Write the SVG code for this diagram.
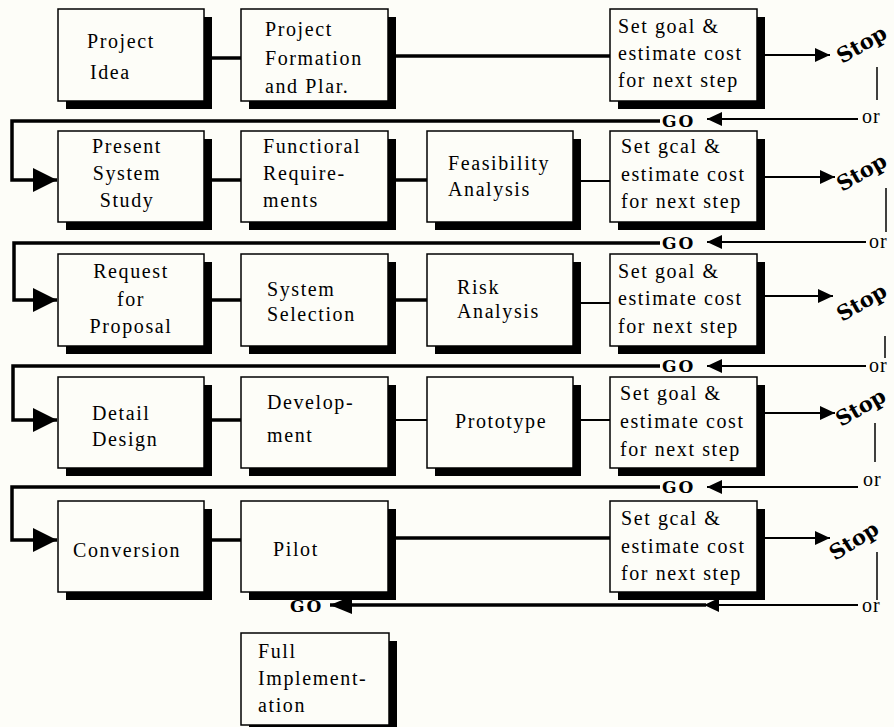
<svg xmlns="http://www.w3.org/2000/svg" width="894" height="727" viewBox="0 0 894 727">
<style>
.bg{fill:#fdfdf8}
.box{fill:#fdfdf8;stroke:#000;stroke-width:1.5}
.sh{fill:#000}
.t{font-family:"Liberation Serif","Times New Roman",serif;font-size:20px;letter-spacing:1.6px;fill:#000}
.c{text-anchor:middle}
.go{font-family:"DejaVu Serif","Liberation Serif",serif;font-weight:bold;font-size:17px;letter-spacing:2px;fill:#000}
.or{font-family:"Liberation Serif","Times New Roman",serif;font-size:20px;letter-spacing:1px;fill:#000}
.stop{font-family:"DejaVu Serif","Liberation Serif",serif;font-weight:bold;font-size:21px;fill:#000}
.thick{stroke:#000;stroke-width:3.5;fill:none}
.thin{stroke:#000;stroke-width:2;fill:none}
.vl{stroke:#000;stroke-width:1.5;fill:none}
</style>
<defs>
<marker id="big" markerUnits="userSpaceOnUse" markerWidth="24" markerHeight="24" refX="24" refY="12" orient="auto"><path d="M0,0 L24,12 L0,24 z" fill="#000"/></marker>
<marker id="sm" markerUnits="userSpaceOnUse" markerWidth="15" markerHeight="14" refX="15" refY="7" orient="auto"><path d="M0,0 L15,7 L0,14 z" fill="#000"/></marker>
<marker id="md" markerUnits="userSpaceOnUse" markerWidth="22" markerHeight="18" refX="22" refY="9" orient="auto"><path d="M0,0 L22,9 L0,18 z" fill="#000"/></marker>
</defs>
<rect class="bg" x="0" y="0" width="894" height="727"/>

<g id="connectors">
<!-- row 1 -->
<line class="thick" x1="212" y1="58" x2="241" y2="58"/>
<line class="thick" x1="395" y1="56" x2="610" y2="56"/>
<line class="thin" x1="764" y1="55" x2="830" y2="55" marker-end="url(#sm)"/>
<line class="vl" x1="877" y1="67" x2="877" y2="100"/>
<!-- row 2 -->
<line class="thick" x1="212" y1="180" x2="241" y2="180"/>
<line class="thick" x1="395" y1="180" x2="427" y2="180"/>
<line class="thin" x1="580" y1="181" x2="610" y2="181"/>
<line class="thin" x1="764" y1="177" x2="835" y2="177" marker-end="url(#sm)"/>
<line class="vl" x1="886" y1="188" x2="886" y2="232"/>
<!-- row 3 -->
<line class="thick" x1="212" y1="300" x2="241" y2="300"/>
<line class="thick" x1="395" y1="300" x2="427" y2="300"/>
<line class="thin" x1="580" y1="303" x2="610" y2="303"/>
<line class="thin" x1="764" y1="296" x2="833" y2="296" marker-end="url(#sm)"/>
<line class="vl" x1="885" y1="336" x2="885" y2="358"/>
<!-- row 4 -->
<line class="thick" x1="212" y1="420" x2="241" y2="420"/>
<line class="thin" x1="395" y1="420" x2="427" y2="420"/>
<line class="thin" x1="580" y1="420" x2="610" y2="420"/>
<line class="thin" x1="764" y1="413" x2="835" y2="413" marker-end="url(#sm)"/>
<line class="vl" x1="875" y1="423" x2="875" y2="462"/>
<!-- row 5 -->
<line class="thick" x1="212" y1="540" x2="241" y2="540"/>
<line class="thick" x1="395" y1="538" x2="610" y2="538"/>
<line class="thin" x1="764" y1="538" x2="830" y2="538" marker-end="url(#sm)"/>
<line class="vl" x1="877" y1="552" x2="877" y2="600"/>
<!-- returns -->
<path class="thin" d="M858,119 H707" marker-end="url(#sm)"/>
<path class="thick" d="M660,121 H12 V180 H57" marker-end="url(#big)"/>
<path class="thin" d="M866,242 H707" marker-end="url(#sm)"/>
<path class="thick" d="M660,243 H14 V300 H57" marker-end="url(#big)"/>
<path class="thin" d="M866,366 H707" marker-end="url(#sm)"/>
<path class="thick" d="M660,366 H13 V420 H57" marker-end="url(#big)"/>
<path class="thin" d="M858,487 H707" marker-end="url(#sm)"/>
<path class="thick" d="M660,487 H12 V540 H57" marker-end="url(#big)"/>
<path class="thin" d="M858,605 H704" marker-end="url(#sm)"/>
<path class="thick" d="M706,605 H330" marker-end="url(#md)"/>
</g>

<g id="labels">
<text class="go" x="662" y="127">GO</text>
<text class="go" x="662" y="249">GO</text>
<text class="go" x="662" y="372">GO</text>
<text class="go" x="662" y="493">GO</text>
<text class="go" x="290" y="612">GO</text>
<text class="or" x="862" y="123">or</text>
<text class="or" x="869" y="248">or</text>
<text class="or" x="869" y="372">or</text>
<text class="or" x="863" y="486">or</text>
<text class="or" x="862" y="612">or</text>
<text class="stop" transform="translate(842,64) rotate(-30)">Stop</text>
<text class="stop" transform="translate(842,192) rotate(-30)">Stop</text>
<text class="stop" transform="translate(842,322) rotate(-30)">Stop</text>
<text class="stop" transform="translate(841,427) rotate(-30)">Stop</text>
<text class="stop" transform="translate(835,561) rotate(-32)">Stop</text>
</g>

<g id="project-idea"><rect class="sh" x="66" y="17" width="146" height="92"/><rect class="box" x="58" y="9" width="146" height="92"/>
<text class="t" x="87" y="48">Project</text><text class="t" x="90" y="79">Idea</text></g>
<g id="project-formation"><rect class="sh" x="249" y="17" width="147" height="92"/><rect class="box" x="241" y="9" width="147" height="92"/>
<text class="t" x="265" y="36">Project</text><text class="t" x="265" y="65">Formation</text><text class="t" x="265" y="93">and Plar.</text></g>
<g id="goal-1"><rect class="sh" x="618" y="17" width="147" height="92"/><rect class="box" x="610" y="9" width="147" height="92"/>
<text class="t" x="618" y="33">Set goal &amp;</text><text class="t" x="618" y="60">estimate cost</text><text class="t" x="618" y="87">for next step</text></g>

<g id="present-system"><rect class="sh" x="66" y="139" width="146" height="91"/><rect class="box" x="58" y="131" width="146" height="91"/>
<text class="t c" x="127" y="153">Present</text><text class="t c" x="127" y="180">System</text><text class="t c" x="127" y="207">Study</text></g>
<g id="functional"><rect class="sh" x="249" y="139" width="147" height="91"/><rect class="box" x="241" y="131" width="147" height="91"/>
<text class="t" x="263" y="153">Functioral</text><text class="t" x="263" y="180">Require-</text><text class="t" x="263" y="207">ments</text></g>
<g id="feasibility"><rect class="sh" x="435" y="139" width="146" height="91"/><rect class="box" x="427" y="131" width="146" height="91"/>
<text class="t" x="448" y="170">Feasibility</text><text class="t" x="448" y="196">Analysis</text></g>
<g id="goal-2"><rect class="sh" x="618" y="139" width="147" height="91"/><rect class="box" x="610" y="131" width="147" height="91"/>
<text class="t" x="621" y="153">Set gcal &amp;</text><text class="t" x="621" y="181">estimate cost</text><text class="t" x="621" y="208">for next step</text></g>

<g id="rfp"><rect class="sh" x="66" y="262" width="146" height="92"/><rect class="box" x="58" y="254" width="146" height="92"/>
<text class="t c" x="131" y="278">Request</text><text class="t c" x="131" y="306">for</text><text class="t c" x="131" y="333">Proposal</text></g>
<g id="system-selection"><rect class="sh" x="249" y="262" width="147" height="92"/><rect class="box" x="241" y="254" width="147" height="92"/>
<text class="t" x="267" y="296">System</text><text class="t" x="267" y="321">Selection</text></g>
<g id="risk"><rect class="sh" x="435" y="262" width="146" height="92"/><rect class="box" x="427" y="254" width="146" height="92"/>
<text class="t" x="457" y="294">Risk</text><text class="t" x="457" y="318">Analysis</text></g>
<g id="goal-3"><rect class="sh" x="618" y="262" width="147" height="92"/><rect class="box" x="610" y="254" width="147" height="92"/>
<text class="t" x="618" y="278">Set goal &amp;</text><text class="t" x="618" y="305">estimate cost</text><text class="t" x="618" y="333">for next step</text></g>

<g id="detail-design"><rect class="sh" x="66" y="385" width="146" height="91"/><rect class="box" x="58" y="377" width="146" height="91"/>
<text class="t" x="92" y="420">Detail</text><text class="t" x="92" y="446">Design</text></g>
<g id="development"><rect class="sh" x="249" y="385" width="147" height="91"/><rect class="box" x="241" y="377" width="147" height="91"/>
<text class="t" x="267" y="409">Develop-</text><text class="t" x="267" y="442">ment</text></g>
<g id="prototype"><rect class="sh" x="435" y="385" width="146" height="91"/><rect class="box" x="427" y="377" width="146" height="91"/>
<text class="t" x="455" y="428">Prototype</text></g>
<g id="goal-4"><rect class="sh" x="618" y="385" width="147" height="91"/><rect class="box" x="610" y="377" width="147" height="91"/>
<text class="t" x="620" y="400">Set goal &amp;</text><text class="t" x="620" y="428">estimate cost</text><text class="t" x="620" y="456">for next step</text></g>

<g id="conversion"><rect class="sh" x="66" y="509" width="146" height="91"/><rect class="box" x="58" y="501" width="146" height="91"/>
<text class="t" x="73" y="557">Conversion</text></g>
<g id="pilot"><rect class="sh" x="249" y="509" width="147" height="91"/><rect class="box" x="241" y="501" width="147" height="91"/>
<text class="t" x="273" y="556">Pilot</text></g>
<g id="goal-5"><rect class="sh" x="618" y="509" width="147" height="91"/><rect class="box" x="610" y="501" width="147" height="91"/>
<text class="t" x="621" y="525">Set gcal &amp;</text><text class="t" x="621" y="553">estimate cost</text><text class="t" x="621" y="580">for next step</text></g>

<g id="full-implementation"><rect class="sh" x="249" y="641" width="148" height="92"/><rect class="box" x="241" y="633" width="148" height="92"/>
<text class="t" x="258" y="658">Full</text><text class="t" x="258" y="685">Implement-</text><text class="t" x="258" y="712">ation</text></g>
</svg>
